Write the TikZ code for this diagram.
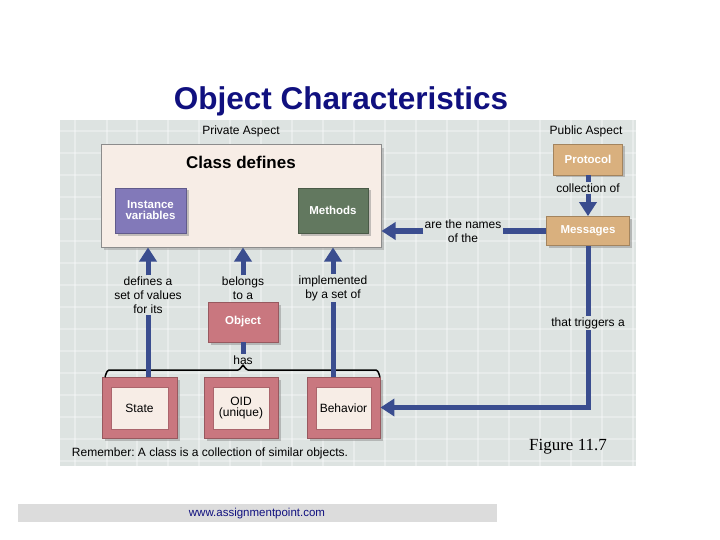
\documentclass[tikz,border=0pt]{standalone}
\usepackage{fontspec}
\setmainfont{Liberation Sans}
\newfontfamily\figserif{Liberation Serif}
\usetikzlibrary{arrows.meta,shadows}
\definecolor{panelbg}{HTML}{DDE3E1}
\definecolor{classfill}{HTML}{F7EDE6}
\definecolor{purplebox}{HTML}{8279B9}
\definecolor{greenbox}{HTML}{62785F}
\definecolor{tanbox}{HTML}{D9B07E}
\definecolor{pinkbox}{HTML}{C9777F}
\definecolor{arrowblue}{HTML}{3A4D8F}
\definecolor{titlenavy}{HTML}{10107F}
\definecolor{footergray}{HTML}{DCDCDC}
\begin{document}
\frenchspacing
\begin{tikzpicture}[x=1pt,y=-1pt,
  lbl/.style={font=\fontsize{12}{14}\selectfont, align=center, inner sep=1pt},
  colbox/.style={draw=#1!75!black, line width=0.8pt, fill=#1, text=white,
     font=\fontsize{11.5}{13}\selectfont\bfseries, align=center,
     drop shadow={shadow xshift=2.5pt, shadow yshift=-2.5pt, fill=black!45, opacity=0.5}},
  conn/.style={draw=arrowblue, line width=5pt},
  arr/.style={draw=arrowblue, line width=5pt, -{Triangle[width=17pt,length=14pt]}},
]
\useasboundingbox (0,0) rectangle (720,540);
\fill[white] (0,0) rectangle (720,540);

% title
\node[font=\fontsize{31.5}{36}\selectfont\bfseries, text=titlenavy] (title) at (341,101) {Object Characteristics};

% panel with grid
\fill[panelbg] (60,120) rectangle (636,466);
\begin{scope}
\clip (60,120) rectangle (636,466);
\foreach \x in {75,107,137,168,199,230,261,292,323,354,385,416,447,478,509,540,571,602,633}
  \draw[white, opacity=0.35, line width=1.3pt] (\x,120) -- (\x,466);
\foreach \y in {131,153,175,197,219,241,263,285,307,329,351,373,395,417,439,461}
  \draw[white, opacity=0.3, line width=1.1pt] (60,\y) -- (636,\y);
\end{scope}

% private side
\node[lbl] (priv) at (241,131) {Private Aspect};
\node[draw=black!45, line width=1pt, fill=classfill, minimum width=280pt, minimum height=102pt,
      drop shadow={shadow xshift=3pt, shadow yshift=-3pt, fill=black!40, opacity=0.5}] (cls) at (241,196) {};
\node[font=\fontsize{17}{20}\selectfont\bfseries] (clstitle) at (241,162) {Class defines};
\node[colbox=purplebox, minimum width=71pt, minimum height=45pt, inner sep=1pt] (inst) at (150.5,210.5) {Instance\\[-2pt]variables};
\node[colbox=greenbox, minimum width=70pt, minimum height=45pt] (meth) at (333,210.5) {Methods};

% public side
\node[lbl] (pub) at (586,131) {Public Aspect};
\node[colbox=tanbox, minimum width=69pt, minimum height=31pt] (prot) at (588,159.5) {Protocol};
\node[lbl] (coll) at (588,188) {collection of};
\node[colbox=tanbox, minimum width=83pt, minimum height=29pt] (msg) at (588,231) {Messages};
\node[lbl] (names) at (463,231) {are the names\\of the};
\node[lbl] (trig) at (588,323) {that triggers a};

% middle labels
\node[lbl] (deftxt) at (148,295) {defines a\\set of values\\for its};
\node[lbl] (beltxt) at (243,288) {belongs\\to a};
\node[lbl] (imptxt) at (333,288) {implemented\\by a set of};
\node[colbox=pinkbox, minimum width=70pt, minimum height=40pt] (obj) at (243,322) {Object};
\node[lbl] (has) at (243,360) {has};

% lower boxes
\foreach \n/\cx/\w/\t in {state/139.5/75/State, oid/241/74/{OID\\[-2pt](unique)}, beh/343.5/73/Behavior}{
  \node[draw=pinkbox!75!black, line width=0.8pt, fill=pinkbox, minimum width=\w pt, minimum height=61pt,
        drop shadow={shadow xshift=2.5pt, shadow yshift=-2.5pt, fill=black!45, opacity=0.5}] (\n) at (\cx,407.5) {};
  \node[fill=classfill, draw=pinkbox!85!black, line width=0.4pt, minimum width=\w pt - 18pt, minimum height=42pt,
        font=\fontsize{12}{13}\selectfont, align=center, inner sep=1pt] (\n in) at (\cx,408) {\t};
}

% brace
\draw[black, line width=1.5pt] (105,376) to[out=-90,in=180] (109,370) -- (238,370)
   to[out=0,in=90] (243,366) to[out=90,in=180] (248,370) -- (376,370) to[out=0,in=-90] (380,376);

% connectors
\draw[conn] (deftxt.south |- state.north) -- (deftxt.south);
\draw[arr] (deftxt.north) -- (deftxt.north |- cls.south);
\draw[arr] (beltxt.north) -- (beltxt.north |- cls.south);
\draw[conn] (obj.south) -- (has.north);
\draw[conn] (imptxt.south |- beh.north) -- (imptxt.south);
\draw[arr] (imptxt.north) -- (imptxt.north |- cls.south);

\draw[conn] (prot.south) -- (coll.north);
\draw[arr] (coll.south) -- (msg.north);
\draw[conn] (msg.west) -- (names.east);
\draw[arr] (names.west) -- (cls.east |- names.west);
\draw[conn] (msg.south) -- (trig.north);
\draw[arr] (trig.south) |- (beh.east);

% bottom text
\node[lbl] (rem) at (210,453) {Remember: A class is a collection of similar objects.};
\node[font=\figserif\fontsize{17}{20}\selectfont] (fig) at (568,447) {Figure 11.7};

% footer
\fill[footergray] (18,504) rectangle (497,522);
\node[font=\fontsize{11.5}{13}\selectfont, text=titlenavy] (foot) at (257,514) {www.assignmentpoint.com};
\end{tikzpicture}
\end{document}
